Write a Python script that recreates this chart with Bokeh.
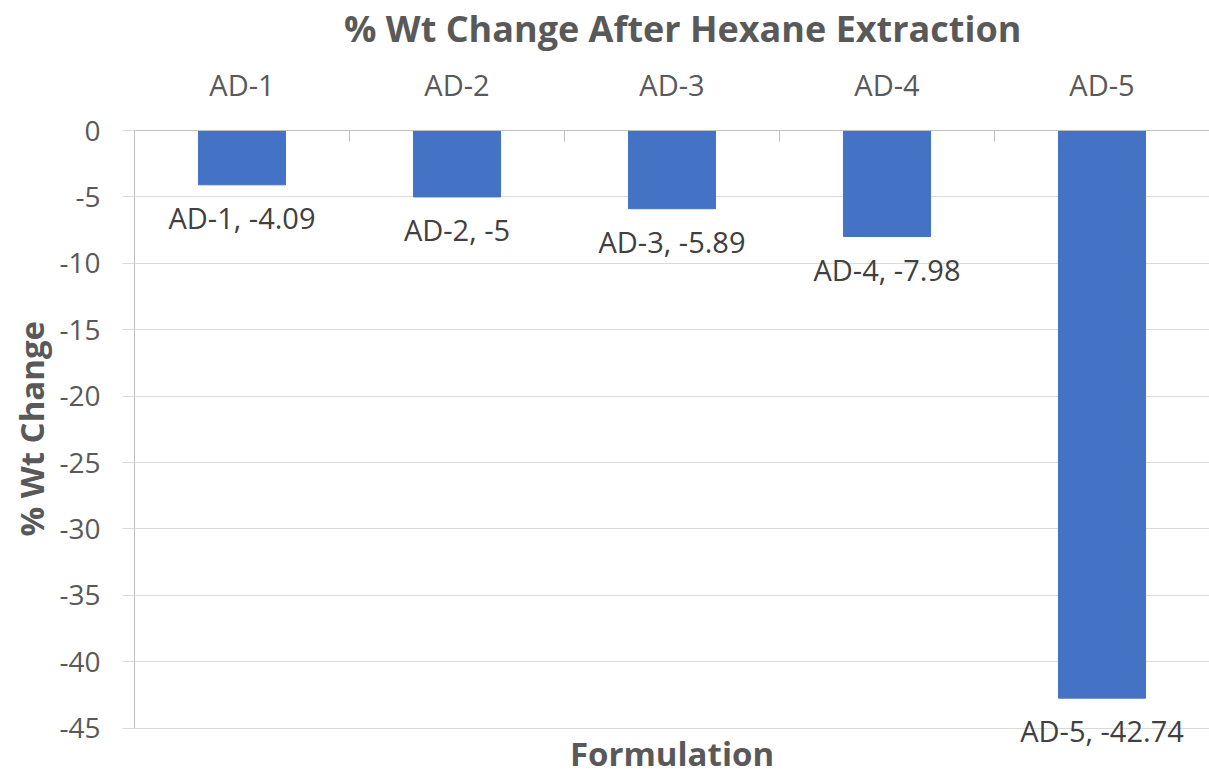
from math import pi
from bokeh.plotting import figure
from bokeh.models import Range1d, FactorRange, Label, LabelSet, ColumnDataSource, Title, FixedTicker, Span
from bokeh.core.properties import value
from bokeh.embed import file_html
from bokeh.resources import INLINE

categories = ["AD-1", "AD-2", "AD-3", "AD-4", "AD-5"]
values = [-4.09, -5, -5.89, -7.98, -42.74]
y_ticks = [0, -5, -10, -15, -20, -25, -30, -35, -40, -45]
title_text = "% Wt Change After Hexane Extraction"
x_title = "Formulation"
y_title = "% Wt Change"

labels = [f"{c}, {v:g}" for c, v in zip(categories, values)]
src = ColumnDataSource(dict(cat=categories, val=values, label=labels,
                            zero=[0] * len(categories)))

FONT = "Open Sans"
GRAY = "#595959"
DARK = "#404040"

# plot area spans the whole height; the value axis itself is bounded to 0..-45
p = figure(width=1209, height=776,
           x_range=FactorRange(*categories), y_range=Range1d(-48.64, 9.79),
           output_backend="svg", toolbar_location=None, x_axis_location=None,
           title_location=None,
           min_border_left=134, min_border_right=0, min_border_top=0, min_border_bottom=0)

p.outline_line_color = None
p.xgrid.visible = False
p.ygrid.ticker = FixedTicker(ticks=y_ticks)
p.ygrid.grid_line_color = "#D9D9D9"
p.ygrid.grid_line_width = 1

p.vbar(x="cat", top="val", bottom=0, width=0.405, source=src,
       fill_color="#4472C4", line_color="#4472C4")

# horizontal (category) axis line at zero with boundary ticks
p.add_layout(Span(location=0, dimension="width", line_color="#BFBFBF", line_width=1))
bounds = list(range(1, len(categories)))
p.ray(x=bounds, y=[0] * len(bounds), length=11, length_units="screen",
      angle=-pi / 2, line_color="#BFBFBF", line_width=1)

# category names above the zero line
p.text(x="cat", y="zero", text="cat", source=src, y_offset=-46,
       text_align="center", text_baseline="alphabetic",
       text_font=value(FONT), text_font_size="29px", text_color=GRAY)

# data labels under each bar
p.add_layout(LabelSet(x="cat", y="val", text="label", source=src,
                      text_align="center", text_baseline="alphabetic", y_offset=-44,
                      text_font=value(FONT), text_font_size="29px", text_color=DARK))

ya = p.yaxis[0]
ya.ticker = FixedTicker(ticks=y_ticks)
ya.bounds = (min(y_ticks), max(y_ticks))
ya.major_label_overrides = {t: str(t) for t in y_ticks}
ya.major_tick_out = 12
ya.major_tick_in = 0
ya.major_tick_line_color = "#D9D9D9"
ya.minor_tick_line_color = None
ya.axis_line_color = "#BFBFBF"
ya.major_label_text_font = FONT
ya.major_label_text_font_size = "28px"
ya.major_label_text_color = GRAY
ya.major_label_standoff = 22

p.add_layout(Title(text=y_title, align="left", offset=240, standoff=6,
                   text_font=FONT, text_font_size="33px", text_font_style="bold",
                   text_color=GRAY), "left")

# chart title and horizontal-axis title
p.add_layout(Label(x=2.55, y=7.68, text=title_text, text_align="center",
                   text_baseline="alphabetic", text_font=FONT, text_font_size="36px",
                   text_font_style="bold", text_color=GRAY))
p.add_layout(Label(x=len(categories) / 2, y=-46.94, text=x_title, text_align="center",
                   text_baseline="alphabetic", text_font=FONT, text_font_size="33px",
                   text_font_style="bold", text_color=GRAY))

open("out.html", "w").write(file_html(p, INLINE))
